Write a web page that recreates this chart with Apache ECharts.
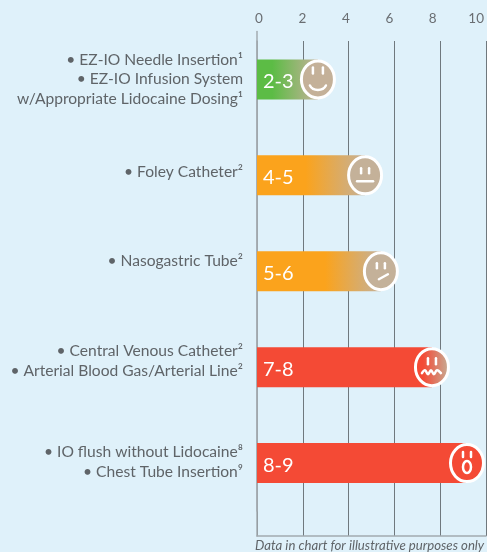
<!DOCTYPE html>
<html>
<head>
<meta charset="utf-8">
<script src="https://cdn.jsdelivr.net/npm/echarts@6/dist/echarts.min.js"></script>
<style>
html, body { margin: 0; padding: 0; background: #dff1fa; }
#chart { width: 487px; height: 552px; }
</style>
</head>
<body>
<div id="chart"></div>
<script>
var procedures = [
    '• EZ-IO Needle Insertion¹\n• EZ-IO Infusion System\nw/Appropriate Lidocaine Dosing¹',
    '• Foley Catheter²',
    '• Nasogastric Tube²',
    '• Central Venous Catheter²\n• Arterial Blood Gas/Arterial Line²',
    '• IO flush without Lidocaine⁸\n• Chest Tube Insertion⁹'
];
var painValues = [2.66, 4.72, 5.41, 7.64, 9.17];
var rangeLabels = ['2-3', '4-5', '5-6', '7-8', '8-9'];
var faces = ['smile', 'flat', 'skew', 'wavy', 'open'];
var barColors = ['#5cbc45', '#fba31c', '#fba31c', '#f44a35', '#f44a35'];
var tickLabels = ['0', '2', '4', '6', '8', '10'];

var FONT = 'Lato, "Open Sans", sans-serif';
var TAN = '#c4b199';
var GREY = '#5f6468';
// where the gradient leaves the solid colour, per bar
var fadeStart = [0.25, 0.45, 0.55, 1, 1];
// the row labels sit a bit above the bar centre
var labelLift = [0, 3, 10, 6, 1];

var gapRich = {
    text: { fontFamily: FONT, fontSize: 15.6, color: GREY, lineHeight: 19.5, align: 'right' }
};
labelLift.forEach(function (h, i) {
    gapRich['gap' + i] = { height: h * 2, lineHeight: h * 2, fontSize: 1 };
});

function grad(stops) {
    return new echarts.graphic.LinearGradient(0, 0, 1, 0, stops);
}

function barColor(i) {
    if (fadeStart[i] >= 1) return barColors[i];
    return grad([
        { offset: 0, color: barColors[i] },
        { offset: fadeStart[i], color: barColors[i] },
        { offset: 1, color: TAN }
    ]);
}

function faceFill(i) {
    if (i === 4) return barColors[4];
    if (i === 3) return grad([{ offset: 0.25, color: barColors[3] }, { offset: 1, color: TAN }]);
    return TAN;
}

function eye(x, y0, y1) {
    return {
        type: 'line',
        shape: { x1: x, y1: y0, x2: x, y2: y1 },
        style: { stroke: '#fff', lineWidth: 2.5, lineCap: 'round' }
    };
}

function mouth(kind) {
    var st = { stroke: '#fff', fill: null, lineWidth: 2.5, lineCap: 'round' };
    if (kind === 'smile') return { type: 'bezierCurve', shape: { x1: -8, y1: 6, cpx1: -5, cpy1: 12, cpx2: 5, cpy2: 12, x2: 8, y2: 6 }, style: st };
    if (kind === 'flat') return { type: 'line', shape: { x1: -8, y1: 6, x2: 8, y2: 6 }, style: st };
    if (kind === 'skew') return { type: 'line', shape: { x1: -2, y1: 8, x2: 7, y2: 3 }, style: st };
    if (kind === 'wavy') return {
        type: 'polyline',
        shape: { points: [[-10, 6], [-7, 3], [-4, 7], [-1, 3], [2, 7], [5, 3], [9, 6]], smooth: 0.4 },
        style: st
    };
    return { type: 'ellipse', shape: { cx: 0, cy: 4, rx: 4, ry: 6 }, style: st };
}

function renderFace(params, api) {
    var i = params.dataIndex;
    var p = api.coord([api.value(0), api.value(1)]);
    var kind = faces[i];
    var eyeY = { smile: [-12, -6], flat: [-7, -2], skew: [-8, -3], wavy: [-9, -3], open: [-11, -6] }[kind];
    var eyeX = kind === 'smile' ? 5 : 4;
    return {
        type: 'group',
        x: p[0],
        y: p[1],
        children: [
            {
                type: 'ellipse',
                shape: { cx: 0, cy: 0, rx: 16.5, ry: 18.5 },
                style: { fill: faceFill(i), stroke: '#fff', lineWidth: 3 }
            },
            eye(-eyeX, eyeY[0], eyeY[1]),
            eye(eyeX, eyeY[0], eyeY[1]),
            mouth(kind)
        ]
    };
}

var chart = echarts.init(document.getElementById('chart'));
chart.setOption({
    backgroundColor: '#dff1fa',
    animation: false,
    title: {
        text: 'Data in chart for illustrative purposes only',
        left: 250,
        top: 534,
        textStyle: { fontFamily: FONT, fontSize: 13.2, fontStyle: 'italic', fontWeight: 'normal', color: GREY }
    },
    grid: [
        { left: 257, width: 229, top: 41, height: 495 },   // gridlines
        { left: 257, width: 229, top: 31.5, height: 479.5 }, // bars
        { left: 259, width: 222, top: 41, height: 495 }    // tick labels
    ],
    xAxis: [
        {
            gridIndex: 0, type: 'value', position: 'top', min: 0, max: 10, interval: 2,
            axisLine: { show: true, lineStyle: { color: '#a3abb0', width: 1.5 } },
            axisTick: { show: false },
            axisLabel: { show: false },
            splitLine: { show: true, lineStyle: { color: '#6f787d', width: 1 } }
        },
        {
            gridIndex: 1, type: 'value', min: 0, max: 10, show: false
        },
        {
            gridIndex: 2, type: 'value', position: 'top', min: 0, max: 10, interval: 2,
            axisLine: { show: false },
            axisTick: { show: false },
            splitLine: { show: false },
            axisLabel: {
                margin: 15,
                fontFamily: FONT,
                fontSize: 13.5,
                color: '#6a6e72',
                hideOverlap: false,
                showMinLabel: true,
                showMaxLabel: true,
                formatter: function (v) { return tickLabels[v / 2]; }
            }
        }
    ],
    yAxis: [
        {
            gridIndex: 0, type: 'value', min: 0, max: 1,
            axisLine: { show: true, lineStyle: { color: '#a3abb0', width: 1.5 } },
            axisTick: { show: false }, axisLabel: { show: false }, splitLine: { show: false }
        },
        {
            gridIndex: 1, type: 'category', inverse: true, data: procedures,
            axisLine: { show: true, lineStyle: { color: '#a3abb0', width: 1.5 } },
            axisTick: { show: false },
            axisLabel: {
                margin: 14,
                interval: 0,
                align: 'right',
                rich: gapRich,
                formatter: function (value, idx) {
                    var lines = value.split('\n').map(function (s) { return '{text|' + s + '}'; });
                    if (labelLift[idx]) lines.push('{gap' + idx + '| }');
                    return lines.join('\n');
                }
            }
        },
        {
            gridIndex: 2, type: 'value', show: false, min: 0, max: 1
        }
    ],
    series: [
        {
            type: 'bar',
            xAxisIndex: 1,
            yAxisIndex: 1,
            barWidth: 40,
            data: painValues.map(function (v, i) {
                return { value: v, itemStyle: { color: barColor(i) } };
            }),
            label: {
                show: true,
                position: 'insideLeft',
                distance: 6,
                offset: [0, 2],
                fontFamily: FONT,
                fontSize: 20,
                color: '#fff',
                formatter: function (p) { return rangeLabels[p.dataIndex]; }
            },
            z: 3
        },
        {
            type: 'custom',
            xAxisIndex: 1,
            yAxisIndex: 1,
            data: painValues.map(function (v, i) { return [v, i]; }),
            encode: { x: 0, y: 1 },
            renderItem: renderFace,
            clip: false,
            z: 4
        }
    ]
});
</script>
</body>
</html>
